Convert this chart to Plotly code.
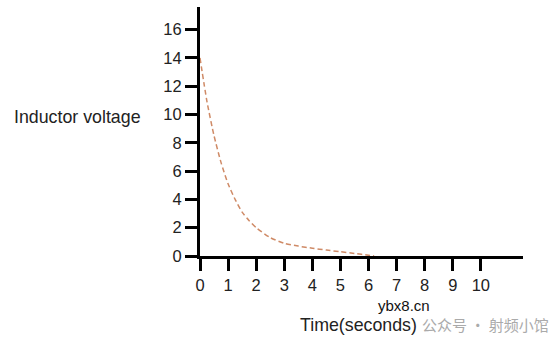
import plotly.graph_objects as go

time_s = [0, 0.25, 0.5, 0.75, 1.0, 1.25, 1.5, 1.75, 2.0, 2.5, 3.0, 3.5, 4.0, 4.5, 5.0, 5.5, 6.0, 6.2]
voltage = [14, 10.9, 8.5, 6.6, 5.1, 4.0, 3.1, 2.5, 2.0, 1.3, 0.9, 0.7, 0.55, 0.42, 0.3, 0.18, 0.05, 0]
x_ticks = [0, 1, 2, 3, 4, 5, 6, 7, 8, 9, 10]
y_ticks = [0, 2, 4, 6, 8, 10, 12, 14, 16]

fig = go.Figure()
fig.add_trace(go.Scatter(
    x=time_s, y=voltage, mode="lines",
    line=dict(color="#cf8a66", width=1.5, dash="5px,3px", shape="spline", smoothing=0.6),
    hoverinfo="skip", showlegend=False,
))

axis_common = dict(
    showline=True, linecolor="black", linewidth=3,
    ticks="outside", ticklen=12, tickwidth=3, tickcolor="black",
    showgrid=False, zeroline=False,
    tickfont=dict(family="Liberation Sans, Arial, sans-serif", size=16.5, color="#222"),
    fixedrange=True,
)

fig.update_xaxes(range=[0, 11.5], tickvals=x_ticks, **axis_common)
fig.update_yaxes(range=[0, 17.6], tickvals=y_ticks, **axis_common)

fig.update_layout(
    width=554, height=347,
    margin=dict(l=200, r=31, t=7, b=91),
    paper_bgcolor="white", plot_bgcolor="white",
    font=dict(family="Liberation Sans, Arial, sans-serif"),
    annotations=[
        dict(text="Inductor voltage", xref="paper", yref="paper",
             x=(12-200)/323, y=(256-117)/249, xanchor="left", yanchor="middle",
             showarrow=False, font=dict(size=17.8, color="#222")),
        dict(text="Time(seconds)", xref="paper", yref="paper",
             x=(298-200)/323, y=(256-325)/249, xanchor="left", yanchor="middle",
             showarrow=False, font=dict(size=17.8, color="#222")),
        dict(text="公众号 · 射频小馆", xref="paper", yref="paper",
             x=(420-200)/323, y=(256-324)/249, xanchor="left", yanchor="middle",
             showarrow=False, font=dict(family="Noto Sans CJK SC", size=15, color="#aaaaaa")),
        dict(text="ybx8.cn", xref="paper", yref="paper",
             x=(376-200)/323, y=(256-305)/249, xanchor="left", yanchor="middle",
             showarrow=False, font=dict(size=15, color="#111")),
    ],
)

fig.write_html("out.html")
